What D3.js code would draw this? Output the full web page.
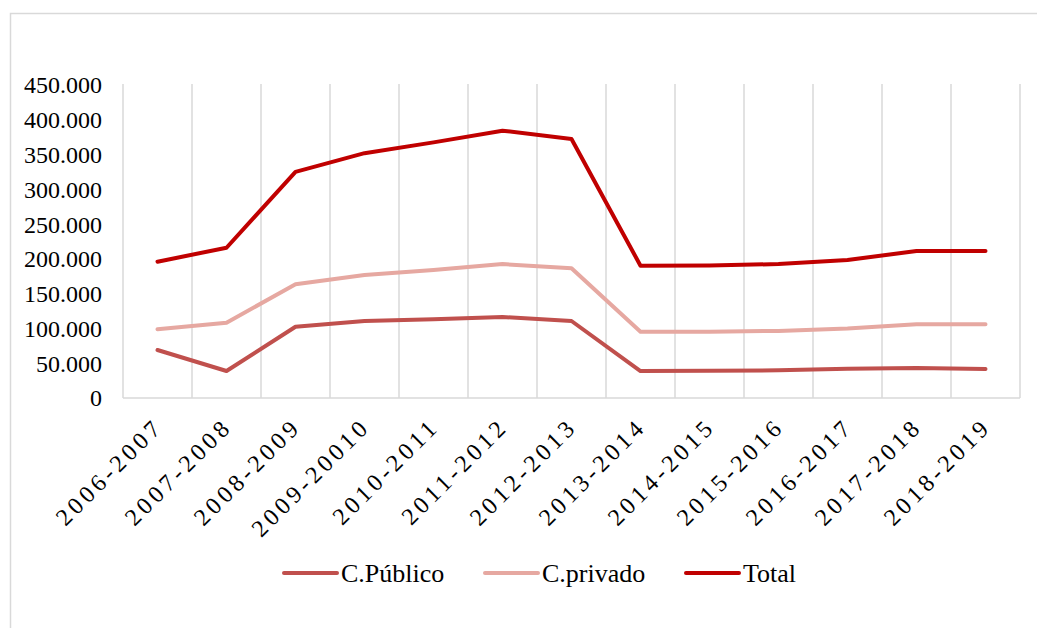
<!DOCTYPE html>
<html>
<head>
    <title>Line Chart</title>
    <script src="https://d3js.org/d3.v7.min.js"></script>
    <style>
        body { margin: 0; background: #fff; }
        text { font-family: "Liberation Serif", "Times New Roman", serif; fill: #000; }
    </style>
</head>
<body>
<svg width="1037" height="628"></svg>
<script>
    const years = ["2006-2007", "2007-2008", "2008-2009", "2009-20010", "2010-2011", "2011-2012",
        "2012-2013", "2013-2014", "2014-2015", "2015-2016", "2016-2017", "2017-2018", "2018-2019"];
    const publico = [69000, 38800, 102500, 110700, 113100, 116500, 110700, 38800, 39000, 39800, 42100, 43100, 41700];
    const privado = [98800, 108300, 163400, 176800, 184000, 192600, 186400, 95300, 95300, 96500, 100000, 106000, 106000];
    const total = [196000, 216000, 325000, 352000, 367500, 384300, 372400, 190200, 190500, 192600, 198400, 211300, 211300];
    const yTicks = [0, 50000, 100000, 150000, 200000, 250000, 300000, 350000, 400000, 450000];

    const series = [
        {name: "C.Público", values: publico, color: "#C0504D"},
        {name: "C.privado", values: privado, color: "#E6A8A1"},
        {name: "Total", values: total, color: "#C00000"}
    ];

    const plotLeft = 123, plotRight = 1020, plotTop = 85, plotBottom = 398;

    const svg = d3.select("svg");

    // outer chart border (clipped by the window on right and bottom)
    svg.append("rect")
        .attr("x", 10.5).attr("y", 13.5)
        .attr("width", 1100).attr("height", 700)
        .attr("fill", "none")
        .attr("stroke", "#d9d9d9")
        .attr("stroke-width", 1.5);

    const x = d3.scaleBand().domain(years).range([plotLeft, plotRight]);
    const y = d3.scaleLinear().domain([0, 450000]).range([plotBottom, plotTop]);

    // vertical gridlines at band edges
    const edges = years.map(d => x(d)).concat([plotRight]);
    svg.append("g").selectAll("line")
        .data(edges)
        .enter().append("line")
        .attr("x1", d => d).attr("x2", d => d)
        .attr("y1", plotTop - 1).attr("y2", plotBottom)
        .attr("stroke", "#d9d9d9")
        .attr("stroke-width", 1.5);

    svg.append("line")
        .attr("x1", plotLeft).attr("x2", plotRight)
        .attr("y1", plotBottom).attr("y2", plotBottom)
        .attr("stroke", "#d9d9d9")
        .attr("stroke-width", 1.5);

    // y axis labels
    const fmt = v => v === 0 ? "0" : d3.format(",")(v).replace(/,/g, ".");
    svg.append("g").selectAll("text")
        .data(yTicks)
        .enter().append("text")
        .attr("x", 102)
        .attr("y", d => y(d))
        .attr("dy", "0.35em")
        .attr("text-anchor", "end")
        .style("font-size", "24px")
        .text(fmt);

    // x axis labels, slanted
    svg.append("g").selectAll("text")
        .data(years)
        .enter().append("text")
        .attr("transform", d => "translate(" + (x(d) + x.bandwidth() / 2 + 7) + "," + 428 + ") rotate(-45)")
        .attr("text-anchor", "end")
        .style("font-size", "24px")
        .style("letter-spacing", "4px")
        .text(d => d);

    const line = d3.line()
        .x((d, i) => x(years[i]) + x.bandwidth() / 2)
        .y(d => y(d));

    svg.append("g").selectAll("path")
        .data(series)
        .enter().append("path")
        .attr("d", d => line(d.values))
        .attr("fill", "none")
        .attr("stroke", d => d.color)
        .attr("stroke-width", 4)
        .attr("stroke-linejoin", "round")
        .attr("stroke-linecap", "round");

    // legend
    const legendX = [284, 485, 686];
    const legend = svg.append("g").selectAll("g")
        .data(series)
        .enter().append("g")
        .attr("transform", (d, i) => "translate(" + legendX[i] + ",573)");
    legend.append("line")
        .attr("x1", 0).attr("x2", 53)
        .attr("stroke", d => d.color)
        .attr("stroke-width", 4)
        .attr("stroke-linecap", "round");
    legend.append("text")
        .attr("x", 57)
        .attr("dy", "0.35em")
        .style("font-size", "26px")
        .text(d => d.name);
</script>
</body>
</html>
